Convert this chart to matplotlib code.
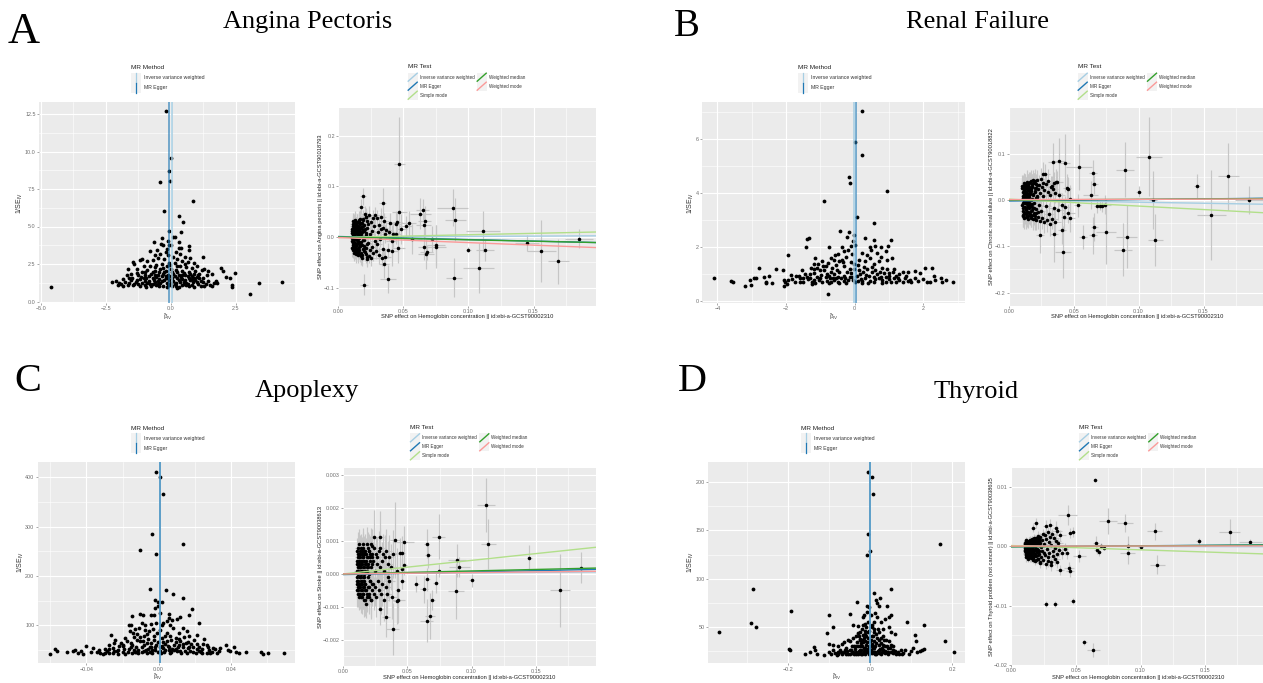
"""Four MR panels: a funnel plot and a scatter plot for each outcome."""
import numpy as np
import matplotlib
matplotlib.use('Agg')
import matplotlib.pyplot as plt
from matplotlib.patches import Rectangle

W, H = 1263, 683
PANEL_BG = '#EBEBEB'
KEY_BG = '#F2F2F2'
TICK_TXT = '#6E6E6E'
BAR_GREY = '#C6C6C6'
C_IVW = '#A6CEE3'
C_EGGER = '#1F78B4'
C_SIMPLE = '#B2DF8A'
C_MEDIAN = '#33A02C'
C_MODE = '#FB9A99'

plt.rcParams.update({
    'font.family': 'Liberation Sans',
    'mathtext.fontset': 'custom',
    'mathtext.rm': 'Liberation Sans',
    'mathtext.it': 'Liberation Sans',
    'mathtext.default': 'regular',
})

# ---- funnel plots: (beta_iv, 1/se_iv)
funnel_a = [
    (-4.63, .97), (4.3, 1.27), (3.4, 1.25), (3.05, .5), (2.46, 1.87), (2.35, 1.1), (2.38, 1.0), (2.3, 1.55),
    (2.12, 1.65), (1.95, 2.25), (2.0, 2.05), (-.2, 12.7), (0, 9.55), (-.07, 8.7), (-.03, 8.05), (-.4, 7.97),
    (.85, 6.7), (-.27, 6.03), (.33, 5.68), (.48, 5.3), (.38, 4.65), (-.07, 4.7), (.1, 4.27), (.18, 4.27),
    (-.35, 4.25), (-.63, 4.0), (-.1, 4.05), (.33, 3.97), (-.38, 3.85), (-.3, 3.75), (-.08, 3.8), (.02, 3.8),
    (.7, 3.7), (.72, 3.45), (-.53, 3.45), (-.8, 3.4), (.3, 3.55), (.4, 3.55), (-.15, 3.5), (-.2, 3.3),
    (1.25, 2.95), (.2, 3.3), (.35, 3.2), (-.4, 3.15), (-.6, 3.1), (-.1, 3.1), (.1, 3.0), (.55, 2.95),
    (.75, 2.9), (-1.1, 2.85), (-1.2, 2.75), (-1.45, 2.65), (-1.4, 2.5), (-.9, 2.7), (-.7, 2.75), (-.5, 2.9),
    (-.25, 2.85), (.25, 2.85), (.45, 2.7), (.65, 2.65), (.9, 2.55), (1.0, 2.4), (-.05, 2.6), (.15, 2.55),
    (-.35, 2.5), (-.55, 2.45), (-.8, 2.4), (-1.05, 2.35), (-1.65, 2.15), (-1.3, 2.2), (-.15, 2.35), (.35, 2.4),
    (.6, 2.3), (.8, 2.25), (1.3, 2.2), (1.45, 2.05), (1.2, 2.1), (-1.55, 1.85), (-1.7, 1.75), (-1.1, 2.0),
    (-.9, 2.1), (-.6, 2.05), (-.4, 2.15), (-.2, 2.05), (0, 2.2), (.2, 2.1), (.45, 2.05), (.7, 2.0),
    (.95, 2.05), (1.1, 1.85), (1.6, 1.85), (1.4, 1.75), (-1.25, 1.75), (-1.0, 1.8), (-.75, 1.85), (-.5, 1.75),
    (-.3, 1.85), (-.1, 1.75), (.1, 1.85), (.3, 1.8), (.55, 1.75), (.8, 1.7), (1.0, 1.65), (1.25, 1.6),
    (-1.85, 1.5), (-1.5, 1.55), (-1.2, 1.5), (-.95, 1.55), (-.7, 1.6), (-.45, 1.5), (-.2, 1.55), (.05, 1.6),
    (.25, 1.55), (.45, 1.5), (.7, 1.55), (.95, 1.45), (1.15, 1.4), (1.45, 1.35), (1.75, 1.35), (-2.25, 1.27),
    (-2.1, 1.37), (-2.0, 1.25), (-1.75, 1.3), (-1.6, 1.22), (-1.35, 1.3), (-1.1, 1.25), (-.85, 1.35), (-.6, 1.3),
    (-.35, 1.35), (-.15, 1.25), (.1, 1.35), (.35, 1.3), (.6, 1.25), (.85, 1.3), (1.05, 1.2), (1.35, 1.2),
    (1.65, 1.25), (1.8, 1.22), (-2.05, 1.1), (-1.85, 1.02), (-1.65, 1.13), (-1.45, 1.08), (-1.2, 1.02), (-1.0, 1.12),
    (-.75, 1.02), (-.55, 1.1), (-.3, 1.02), (-.05, 1.12), (.2, 1.05), (.45, 1.1), (.7, 1.02), (.9, .95),
    (1.15, 1.05), (1.6, 1.02), (.25, .9), (-.95, 1.0), (.55, 1.45), (-.05, 1.42), (-.65, 1.45), (-1.3, 1.42),
    (-1.9, 1.18), (-1.4, 1.2), (-1.0, 1.4), (-.8, 1.2), (-.5, 1.2), (-.25, 1.45), (0, 1.25), (.15, 1.15),
    (.3, 1.42), (.5, 1.2), (.75, 1.42), (1.0, 1.32), (1.25, 1.3), (1.5, 1.12), (-1.55, 1.42), (-1.15, 1.65),
    (-.85, 1.68), (-.55, 1.62), (-.35, 1.68), (-.1, 1.55), (.15, 1.68), (.4, 1.65), (.65, 1.68), (.9, 1.58),
    (1.1, 1.55), (-1.3, 1.9), (-1.0, 1.95), (-.7, 1.95), (-.45, 1.95), (-.25, 1.95), (.05, 1.95), (.25, 1.95),
    (.5, 1.9), (.75, 1.85), (.9, 1.85), (-.6, 2.3), (-.3, 2.25), (-.02, 2.45), (.25, 2.35), (.55, 2.5),
    (-.45, 1.02), (-.15, 1.0), (.05, 1.05), (.33, 1.0), (.6, 1.1), (.8, 1.12), (1.3, 1.05), (-.7, 1.15),
    (-.4, 1.25), (.22, 1.25), (.5, 1.32), (-1.05, 1.6), (-.62, 1.75), (.45, 1.8), (.02, 1.72), (-.18, 1.68),
    (-.48, 1.4), (-.9, 1.25), (.8, 1.5), (1.05, 1.75), (-.12, 1.15), (.68, 1.15), (-1.25, 1.15), (-1.6, 1.6),
]
funnel_b = [
    (-4.1, .87), (-3.6, .77), (-3.55, .73), (-3.2, .57), (-3.05, .78), (-3.03, .62), (-2.95, .87), (-2.88, .85),
    (-2.8, 1.23), (-2.65, .9), (-2.6, .72), (-2.58, .67), (-2.5, .93), (-2.4, .68), (-2.3, 1.2), (-2.1, 1.18),
    (-2.07, .58), (-2.05, .8), (-2.03, .7), (-1.95, .8), (-1.95, 1.7), (-1.85, .97), (-1.7, .95), (-1.6, .85),
    (-1.55, 1.15), (-1.5, .7), (-1.45, 1.0), (-1.42, 2.0), (-1.4, 2.32), (-1.33, 2.34), (-1.3, .85), (-1.25, .65),
    (-1.2, 1.05), (-1.15, 1.6), (-1.2, 1.4), (-1.1, 1.25), (-1.05, .8), (-1.0, 1.15), (-.95, 1.5), (-.9, 3.7),
    (-.85, 1.3), (-.8, 1.0), (-.78, .27), (-.75, 2.03), (-.7, .7), (-.65, 1.25), (-.6, 1.55), (-.55, .85),
    (-.5, 1.75), (-.45, 1.1), (-.42, 2.6), (-.38, 2.03), (-.35, 1.45), (-.3, .75), (-.25, 1.65), (-.22, 2.4),
    (-.18, 2.55), (-.2, 1.9), (-.17, 4.6), (-.15, 4.4), (-.15, 1.2), (-.1, 2.05), (-.07, 1.75), (-.05, 2.22),
    (-.03, 2.47), (0, 5.9), (0, 2.1), (.05, 3.12), (.2, 7.03), (.22, 5.42), (.55, 2.9), (.95, 4.08),
    (.3, 2.35), (.55, 2.28), (.45, 2.03), (.6, 2.05), (.48, 1.9), (.75, 2.03), (1.05, 2.28), (.98, 2.05),
    (.9, 1.85), (.2, 1.8), (.45, 1.6), (.65, 1.8), (1.07, 1.62), (.75, 1.65), (.95, 1.55), (.3, 1.5),
    (.55, 1.4), (.8, 1.25), (1.15, 1.2), (.1, 1.35), (.35, 1.2), (.6, 1.15), (1.0, 1.05), (1.4, 1.1),
    (1.55, 1.1), (1.75, 1.12), (1.9, 1.05), (2.05, 1.22), (2.25, 1.23), (2.3, .95), (2.5, .85), (2.55, .7),
    (2.65, .78), (2.85, .73), (2.1, .7), (2.35, .78), (1.85, .75), (1.6, .8), (1.4, .72), (1.15, .85),
    (.9, .7), (.7, .85), (.45, .75), (.2, .68), (-.05, .8), (-.25, .68), (-.5, .72), (-.72, .85),
    (-.95, .72), (-1.15, .68), (-1.35, .82), (-1.75, .72), (-1.98, .65), (.15, 1.0), (-.1, 1.05), (-.32, .95),
    (-.6, 1.02), (-.85, .9), (-1.1, .92), (-1.3, 1.0), (.4, .95), (.65, 1.0), (.9, .9), (1.2, .95),
    (1.5, .95), (1.75, .88), (2.0, .82), (2.2, .72), (.1, .75), (.3, .85), (.55, .7), (.8, .78),
    (1.05, .72), (1.3, .8), (-.4, .85), (-.15, .9), (-.75, .68), (-1.5, .85), (-.9, 1.15), (-.55, 1.35),
    (.05, .95), (.25, 1.1), (-.3, 1.3), (-.12, 1.45), (-.7, 1.6), (.85, 1.05), (1.65, .7), (-1.25, .72),
    (-1.6, .72), (-1.4, .9), (-1.2, .78), (-1.0, .85), (-.8, .75), (-.62, .88), (-.45, .68), (-.2, .78),
    (0, .7), (.18, .82), (.38, .68), (.6, .82), (.78, .68), (1.0, .82), (1.2, .7), (1.45, .88),
    (-1.08, 1.4), (-.78, 1.42), (-.52, 1.15), (-.38, 1.55), (-.22, 1.08), (-.02, 1.2), (.12, 1.15), (.28, 1.28),
    (.5, 1.1), (.72, 1.1), (.95, 1.2), (1.1, 1.08), (1.3, 1.0), (-.68, 1.08), (-.92, 1.32), (-1.18, 1.2),
    (-.32, 1.85), (-.45, 1.5), (-.58, 1.7), (.35, 1.72), (.5, 1.28), (.7, 1.5), (.12, 1.55), (-.03, 1.38),
    (-1.28, 1.25), (-.98, .98), (-.75, .95), (-.48, .92), (-.28, .88), (-.08, .92), (.32, .98), (.55, .9),
    (.75, .92), (1.0, .95), (1.25, .85), (1.55, .75), (-1.62, .95), (-1.82, .82), (.22, .75), (-.6, .78),
]
funnel_c = [
    (-.0603, 42), (-.0575, 52), (-.0565, 47), (-.051, 46), (-.0475, 48), (-.0465, 50), (-.0445, 44), (-.043, 47),
    (-.042, 42), (-.0405, 58), (-.0375, 46), (-.0365, 54), (-.034, 45), (-.033, 49), (-.031, 42), (-.0295, 51),
    (-.0285, 47), (-.0275, 44), (-.0265, 80), (-.0255, 53), (-.0245, 65), (-.024, 71), (-.023, 47), (-.022, 58),
    (-.021, 64), (-.02, 45), (-.019, 52), (-.0175, 68), (-.0165, 100), (-.016, 88), (-.0155, 101), (-.0145, 119),
    (-.0145, 60), (-.014, 85), (-.0135, 76), (-.013, 46), (-.0125, 56), (-.012, 82), (-.011, 95), (-.0105, 123),
    (-.0085, 121), (-.008, 78), (-.0075, 100), (-.007, 50), (-.0065, 64), (-.006, 73), (-.0055, 88), (-.005, 45),
    (-.004, 121), (-.0045, 103), (-.004, 57), (-.003, 92), (-.0025, 70), (-.002, 49), (-.0015, 105), (-.001, 84),
    (-.0105, 252), (-.005, 173), (-.0035, 284), (-.0015, 244), (-.002, 152), (-.0025, 120), (-.002, 135), (-.0005, 139),
    (-.0015, 410), (.0005, 400), (.0025, 366), (.0135, 265), (.004, 172), (.008, 164), (.0135, 155), (.0185, 132),
    (.017, 120), (.0225, 105), (.012, 116), (.01, 112), (.0055, 123), (.0055, 115), (.0075, 110), (.002, 147),
    (.0005, 125), (-.0005, 147), (.002, 100), (.0045, 85), (.008, 95), (.0115, 85), (.0135, 95), (.0155, 88),
    (.017, 78), (.0195, 70), (.0215, 80), (.025, 72), (.0265, 60), (.028, 50), (.024, 52), (.0215, 63),
    (.019, 55), (.0175, 47), (.015, 64), (.0135, 55), (.0115, 72), (.01, 47), (.0085, 60), (.007, 70),
    (.0055, 50), (.0035, 63), (.002, 75), (.0005, 55), (-.0005, 45), (.003, 46), (.0065, 44), (.0095, 52),
    (.0125, 44), (.016, 54), (.0205, 44), (.0235, 46), (.0265, 44), (.0295, 46), (.031, 52), (.0325, 44),
    (.034, 54), (.0375, 60), (.0385, 50), (.0395, 47), (.0415, 55), (.043, 46), (.0445, 43), (.0485, 45),
    (.0565, 46), (.058, 42), (.0605, 44), (.0695, 44), (-.0095, 45), (-.0115, 50), (-.0145, 44), (-.0165, 52),
    (-.0185, 42), (-.0225, 42), (-.0255, 44), (-.008, 60), (-.006, 52), (-.0035, 44), (-.0015, 60), (-.0105, 68),
    (-.0125, 46), (.0025, 54), (.005, 58), (.0075, 52), (.011, 60), (.0145, 48), (.018, 62), (.0225, 56),
    (.0275, 55), (.0335, 48), (-.0275, 52), (-.0325, 44), (-.0195, 58), (.0015, 44), (.0045, 68), (.0095, 66),
    (-.017, 46), (-.0155, 56), (-.0135, 50), (-.0115, 43), (-.0095, 56), (-.008, 48), (-.0065, 44), (-.005, 55),
    (-.0035, 50), (-.002, 56), (-.0005, 66), (.0005, 48), (.002, 58), (.0035, 50), (.0055, 56), (.007, 46),
    (.0085, 50), (.0105, 56), (.012, 48), (.0135, 62), (.0155, 44), (.017, 56), (.019, 46), (.021, 52),
    (.0225, 48), (.024, 44), (-.0105, 76), (-.0085, 68), (-.0065, 82), (-.0045, 65), (-.0025, 78), (.001, 90),
    (.0025, 66), (.0035, 78), (.0065, 78), (.0095, 75), (.012, 68), (.014, 76), (.0165, 66), (.0025, 105),
    (.0045, 108), (.006, 100), (-.0075, 90), (-.009, 104), (-.013, 92), (-.0185, 74), (-.02, 60), (-.0225, 50),
    (-.025, 47), (-.0275, 60), (-.0295, 44), (.0245, 62), (.0285, 44), (.03, 54), (-.0155, 64), (-.012, 70),
]
funnel_d = [
    (-.368, 44), (-.285, 89), (-.29, 54), (-.28, 50), (-.198, 27), (-.195, 26), (-.194, 66), (-.16, 22),
    (-.148, 24), (-.137, 29), (-.135, 26), (-.13, 22), (-.112, 21), (-.105, 43), (-.102, 32), (-.1, 24),
    (-.1, 62), (-.09, 31), (-.09, 26), (-.09, 50), (-.082, 21), (-.08, 24), (-.079, 30), (-.07, 32),
    (-.065, 24), (-.06, 28), (-.055, 22), (-.05, 35), (-.05, 63), (-.048, 26), (-.043, 38), (-.042, 52),
    (-.04, 22), (-.035, 30), (-.033, 76), (-.03, 51), (-.03, 43), (-.028, 25), (-.025, 37), (-.023, 33),
    (-.02, 48), (-.02, 22), (-.018, 41), (-.017, 60), (-.015, 28), (-.013, 35), (-.012, 53), (-.01, 24),
    (-.008, 125), (-.008, 72), (-.007, 65), (-.006, 45), (-.005, 146), (-.005, 211), (-.004, 30), (-.003, 70),
    (0, 129), (.002, 62), (.005, 206), (.006, 188), (.003, 40), (.005, 52), (.007, 28), (.01, 35),
    (.009, 85), (.014, 78), (.017, 75), (.024, 80), (.02, 72), (.012, 64), (.016, 60), (.02, 45),
    (.025, 55), (.03, 48), (.035, 58), (.04, 72), (.05, 89), (.05, 62), (.045, 60), (.045, 50),
    (.05, 44), (.03, 40), (.025, 33), (.02, 26), (.015, 22), (.035, 30), (.04, 24), (.045, 35),
    (.055, 30), (.06, 42), (.05, 24), (.06, 25), (.07, 22), (.075, 26), (.08, 23), (.085, 26),
    (.09, 55), (.095, 22), (.1, 25), (.105, 28), (.11, 41), (.112, 35), (.115, 24), (.12, 25),
    (.125, 26), (.13, 52), (.13, 27), (.171, 136), (.182, 35), (.203, 24), (.01, 24), (.025, 22),
    (.03, 26), (.005, 30), (-.015, 38), (-.025, 44), (-.035, 40), (-.045, 30), (-.055, 36), (-.065, 34),
    (-.075, 26), (-.085, 23), (-.095, 22), (-.06, 22), (-.04, 30), (-.03, 22), (-.02, 30), (-.01, 40),
    (-.005, 24), (.0, 24), (.004, 23), (.008, 44), (.012, 30), (.016, 38), (.022, 36), (.028, 28),
    (.033, 24), (.038, 36), (.042, 28), (.048, 28), (.055, 23), (-.012, 22), (-.022, 26), (-.032, 34),
    (-.042, 24), (-.05, 22), (-.07, 22), (-.01, 31), (-.014, 46), (-.018, 52), (.0, 35), (.008, 55),
    (-.05, 26), (-.045, 23), (-.038, 27), (-.034, 24), (-.03, 30), (-.026, 26), (-.024, 23), (-.02, 36),
    (-.016, 25), (-.013, 28), (-.01, 26), (-.007, 34), (-.004, 22), (-.002, 28), (.002, 26), (.004, 32),
    (.006, 24), (.009, 28), (.012, 24), (.014, 33), (.018, 25), (.02, 31), (.023, 27), (.026, 38),
    (.03, 31), (.033, 36), (.036, 25), (.04, 30), (.043, 24), (.05, 31), (-.028, 40), (-.024, 30),
    (-.018, 34), (-.012, 42), (-.006, 38), (-.002, 46), (.002, 36), (.006, 40), (.01, 48), (.014, 42),
    (.018, 48), (-.022, 22), (-.034, 22), (-.026, 36), (-.01, 50), (-.006, 55), (-.015, 62), (.003, 50),
    (-.002, 24), (.012, 22), (.02, 23), (.028, 24), (.035, 23), (.042, 22), (-.008, 27), (-.018, 23),
    (.068, 24), (.055, 26), (.063, 22), (.078, 22), (-.056, 25), (-.062, 26), (-.078, 22), (-.072, 24),
]
# lines drawn on the funnel: beta_iv of IVW and MR Egger
funnel_ivw = [.04, -.03, .0006, .0]
funnel_egger = [-.05, .04, .0005, .0]

# ---- scatter plots: SNPs in the dense part share the exposure effects
cloud_x = [
    .0105, .0108, .011, .011, .0112, .0113, .0115, .0115, .0118, .012,
    .012, .0122, .0123, .0125, .0125, .0128, .013, .013, .0132, .0135,
    .0135, .0138, .014, .014, .0142, .0145, .0145, .0148, .015, .015,
    .0152, .0155, .0158, .016, .016, .0163, .0165, .0168, .017, .0172,
    .0175, .0178, .018, .0182, .0185, .0188, .019, .0192, .0195, .02,
    .0203, .0206, .021, .0213, .0216, .022, .0223, .0226, .023, .0234,
    .0238, .0242, .0246, .025, .0254, .0258, .0262, .0266, .027, .0275,
    .028, .0285, .029, .0295, .03, .0305, .031, .0315, .032, .0325,
    .033, .0335, .034, .0345, .035, .0355, .036, .037, .038, .039,
    .0103, .0106, .0107, .0109, .0111, .0112, .0114, .0116, .0117, .0119,
    .0121, .0124, .0126, .0127, .0129, .0131, .0133, .0134, .0136, .0137,
    .0139, .0141, .0143, .0144, .0146, .0147, .0149, .0151, .0153, .0154,
    .0156, .0157, .0159, .0161, .0162, .0164, .0166, .0167, .0169, .0171,
    .0173, .0176, .0179, .0181, .0183, .0186, .0189, .0191, .0194, .0197,
    .0199, .0201, .0204, .0207, .0209, .0211, .0214, .0217, .022, .0224,
]
cloud_xse = [
    .0016, .0017, .0017, .0018, .0016, .0018, .0017, .0019, .0018, .0017,
    .0018, .0019, .0018, .0017, .002, .0019, .0018, .002, .0019, .002,
    .0021, .002, .0019, .0022, .0021, .002, .0023, .0021, .0022, .002,
    .0023, .0022, .0024, .0021, .0025, .0023, .0024, .0022, .0026, .0024,
    .0025, .0027, .0024, .0026, .0028, .0025, .0027, .0029, .0026, .0028,
    .0027, .003, .0028, .0029, .0031, .0028, .003, .0032, .0029, .0031,
    .0032, .003, .0033, .0031, .0034, .0032, .0035, .0033, .0036, .0034,
    .0035, .0037, .0034, .0038, .0036, .0039, .0037, .004, .0038, .0041,
    .004, .0042, .0039, .0043, .0041, .0044, .0042, .0045, .0043, .0046,
    .0016, .0017, .0018, .0016, .0017, .0019, .0018, .0017, .0019, .0018,
    .0019, .0018, .002, .0019, .0018, .002, .0021, .0019, .002, .0022,
    .002, .0022, .0021, .0023, .0021, .0022, .0024, .0022, .0023, .0025,
    .0023, .0024, .0026, .0024, .0025, .0027, .0025, .0026, .0028, .0026,
    .0027, .0026, .0028, .0027, .0029, .0027, .003, .0028, .0029, .003,
    .0028, .003, .0029, .0031, .0029, .0031, .003, .0032, .003, .0032,
]
cloud_a_y = [
    .012, -.008, .022, -.019, .004, .031, -.026, .015, -.003, .009,
    -.014, .027, -.031, .018, .002, -.022, .034, -.011, .007, -.017,
    .024, -.029, .011, -.005, .029, -.024, .016, -.035, .006, -.012,
    .021, -.027, .033, -.009, .013, -.033, .025, -.018, .003, .019,
    -.038, .028, -.015, .010, -.042, .035, -.006, .022, -.028, .014,
    -.021, .045, -.034, .008, .040, -.043, .017, -.012, .026, -.037,
    .044, -.025, .005, .029, -.041, .012, -.019, .037, -.031, .021,
    -.008, .043, -.027, .038, -.014, .010, -.036, .024, -.004, .040,
    .015, -.042, .018, -.023, .032, .006, -.039, .013, -.026, .009,
    -.002, .016, -.021, .007, -.011, .026, .001, -.016, .019, -.025,
    .005, -.009, .032, -.019, .013, -.028, .008, .023, -.004, -.033,
    .017, .000, -.013, .028, -.023, .010, .003, -.030, .020, -.007,
    .014, -.020, .030, -.001, -.026, .009, .036, -.015, .018, -.032,
    .006, -.010, .027, -.036, .015, .001, -.024, .033, -.017, .011,
    .024, -.005, -.030, .016, .039, -.022, .004, -.040, .031, -.013,
]
cloud_a_se = [
    .016, .017, .015, .018, .016, .017, .016, .018, .015, .017,
    .016, .018, .017, .016, .018, .015, .017, .016, .018, .017,
    .016, .018, .017, .015, .017, .016, .018, .016, .017, .015,
    .016, .017, .018, .015, .017, .016, .018, .015, .016, .017,
    .018, .016, .015, .017, .016, .018, .015, .017, .016, .015,
    .017, .016, .018, .015, .016, .017, .015, .018, .016, .015,
    .017, .016, .018, .015, .017, .016, .015, .017, .016, .018,
    .015, .017, .016, .015, .018, .016, .017, .015, .016, .017,
    .018, .015, .016, .017, .015, .018, .016, .017, .015, .016,
    .017, .016, .018, .015, .017, .016, .018, .017, .015, .016,
    .018, .016, .015, .017, .018, .016, .015, .017, .016, .018,
    .015, .017, .016, .018, .015, .016, .017, .018, .016, .015,
    .017, .016, .015, .018, .017, .016, .018, .015, .017, .016,
    .015, .018, .016, .017, .015, .016, .018, .017, .015, .016,
    .018, .015, .017, .016, .018, .015, .017, .016, .018, .015,
]
cloud_b_y = [
    .025, -.018, .008, -.034, .031, -.006, .015, -.027, .002, .021,
    -.038, .012, .029, -.014, -.003, .034, -.022, .006, -.031, .018,
    .027, -.009, -.036, .013, .004, -.025, .033, -.016, .022, -.005,
    -.040, .028, .010, -.029, .036, -.012, .017, -.035, .024, .001,
    .041, -.021, .030, -.008, .044, -.033, .014, .038, -.018, .026,
    -.042, .019, .035, -.027, .007, .043, -.037, .023, -.011, .032,
    -.045, .016, .046, -.024, .029, -.039, .009, .037, -.048, .021,
    .056, -.013, .034, -.044, .018, .042, -.030, .010, -.052, .028,
    .031, -.040, .024, -.017, .036, -.047, .015, .039, -.022, .012,
    -.011, .030, -.024, .017, .005, -.033, .023, -.002, .037, -.015,
    .010, -.028, .019, .035, -.007, -.020, .028, .003, -.037, .014,
    -.004, .025, .039, -.026, .009, -.013, .032, -.034, .016, -.001,
    .022, -.017, .006, .040, -.031, .013, -.008, .027, -.038, .020,
    -.023, .034, .002, -.014, .029, -.041, .011, .036, -.006, -.029,
    .018, -.035, .042, .005, -.019, .026, -.044, .033, .008, -.025,
]
cloud_b_se = [
    .022, .024, .021, .025, .023, .022, .024, .026, .021, .023,
    .025, .022, .024, .021, .026, .023, .022, .025, .024, .021,
    .023, .026, .022, .024, .021, .025, .023, .022, .026, .024,
    .021, .023, .025, .022, .024, .026, .021, .023, .022, .025,
    .024, .021, .026, .023, .022, .025, .024, .021, .023, .026,
    .022, .024, .021, .025, .023, .022, .026, .024, .021, .023,
    .025, .022, .024, .021, .026, .023, .022, .025, .024, .021,
    .023, .026, .022, .024, .021, .025, .023, .022, .026, .024,
    .021, .023, .025, .022, .024, .026, .021, .023, .022, .025,
    .023, .025, .022, .024, .021, .026, .023, .024, .022, .025,
    .021, .023, .026, .022, .024, .025, .021, .023, .026, .022,
    .024, .021, .025, .023, .022, .026, .024, .021, .023, .025,
    .022, .024, .026, .021, .023, .025, .022, .024, .021, .026,
    .023, .022, .025, .024, .021, .023, .026, .022, .024, .025,
    .021, .023, .025, .022, .026, .024, .021, .023, .025, .022,
]
cloud_c_y = [
    .0004, -.0003, .0007, -.0005, .0002, .0008, -.0006, .0001, -.0002, .0006,
    -.0004, .0003, .0009, -.0007, .0005, -.0001, -.0006, .0002, .0006, -.0003,
    .0008, -.0005, .0001, .0004, -.0007, .0007, -.0002, .0003, -.0006, .0005,
    -.0004, .0009, .0002, -.0008, .0006, -.0001, .0004, -.0005, .0007, -.0003,
    .0006, -.0009, .0003, .0005, -.0006, .0001, .0008, -.0004, .0002, -.0007,
    .0007, -.0002, .0005, -.0008, .0009, .0003, -.0005, .0006, -.0003, .0004,
    -.0006, .0008, .0001, -.0004, .0006, -.0007, .0003, .0005, -.0002, .0007,
    -.0005, .0002, .0008, -.0006, .0004, -.0003, .0006, -.0008, .0001, .0005,
    -.0004, .0007, -.0006, .0003, -.0001, .0005, -.0002, .0002, -.0007, .0006,
    .0001, -.0001, .0003, -.0002, .0005, -.0004, .0006, .0000, -.0005, .0002,
    -.0003, .0004, -.0006, .0007, -.0001, .0002, -.0004, .0005, .0000, -.0007,
    .0003, -.0002, .0006, .0001, -.0005, .0004, -.0003, .0008, -.0001, .0002,
    -.0006, .0005, .0000, -.0004, .0007, -.0002, .0003, -.0008, .0006, .0001,
    -.0003, .0004, -.0005, .0009, .0002, -.0007, .0005, -.0001, .0003, -.0004,
    .0007, -.0006, .0000, .0004, -.0002, .0006, -.0008, .0002, .0005, -.0003,
]
cloud_c_se = [
    .0004, .00045, .0004, .0005, .00042, .00048, .0004, .00045, .0005, .0004,
    .00042, .00048, .00045, .0004, .0005, .00043, .00047, .0004, .00045, .0005,
    .00042, .00048, .0004, .00045, .0005, .00043, .00047, .0004, .00046, .0005,
    .00042, .00048, .00044, .0005, .00043, .00047, .00052, .00045, .0005, .00042,
    .00048, .00044, .00052, .00046, .0005, .00043, .00047, .00054, .00045, .0005,
    .00048, .00052, .00046, .00056, .0005, .00054, .00048, .00058, .00052, .00056,
    .0005, .0006, .00054, .00058, .00052, .0006, .00056, .00062, .00054, .0006,
    .00056, .00064, .00058, .00062, .00056, .00066, .0006, .00064, .00058, .00068,
    .00062, .00066, .0006, .0007, .00064, .00068, .00062, .0007, .00066, .00072,
    .0004, .00044, .00042, .00046, .0004, .00048, .00043, .00045, .0004, .00047,
    .00042, .00046, .00044, .00048, .00041, .00045, .00043, .00047, .00042, .00049,
    .00044, .00046, .00043, .00048, .00045, .00042, .00049, .00046, .00044, .00047,
    .00045, .00048, .00043, .0005, .00046, .00044, .00049, .00047, .00045, .0005,
    .00046, .00049, .00047, .00052, .00048, .00045, .00051, .00049, .00047, .00053,
    .0005, .00048, .00054, .00051, .00049, .00055, .00052, .0005, .00056, .00053,
]
cloud_d_y = [
    -.0006, .0004, -.0014, .0007, -.0002, -.0019, .0010, -.0009, .0002, -.0012,
    .0006, -.0004, -.0016, .0009, -.0007, .0001, -.0021, .0005, -.0011, .0003,
    -.0015, .0008, -.0003, -.0018, .0011, -.0008, .0004, -.0013, -.0001, .0007,
    -.0020, .0002, -.0010, .0012, -.0005, -.0017, .0006, -.0023, .0009, -.0007,
    .0014, -.0012, .0003, -.0025, .0010, -.0004, -.0016, .0013, -.0009, .0005,
    -.0022, .0017, -.0006, -.0013, .0008, -.0028, .0015, -.0002, -.0018, .0011,
    -.0008, .0021, -.0024, .0004, -.0011, .0018, -.0015, -.0030, .0012, -.0005,
    .0024, -.0019, .0007, -.0012, .0016, -.0027, .0002, .0020, -.0009, -.0017,
    .0013, -.0003, -.0022, .0009, .0026, -.0014, .0005, -.0007, .0018, -.0011,
    -.0003, .0001, -.0009, .0005, -.0012, .0003, -.0006, .0008, -.0015, -.0001,
    .0006, -.0010, .0002, -.0018, .0004, -.0005, -.0013, .0007, -.0002, -.0008,
    .0009, -.0014, .0000, -.0004, .0005, -.0019, .0003, -.0011, .0008, -.0006,
    -.0016, .0001, .0010, -.0009, -.0003, .0006, -.0020, .0004, -.0012, .0002,
    .0011, -.0007, -.0017, .0005, -.0001, -.0013, .0009, -.0024, .0003, -.0010,
    .0014, -.0005, -.0021, .0008, -.0015, .0002, .0012, -.0008, -.0026, .0006,
]
cloud_d_se = [
    .0005, .0006, .0005, .0006, .0005, .0007, .0005, .0006, .0005, .0006,
    .0006, .0005, .0007, .0005, .0006, .0005, .0006, .0007, .0005, .0006,
    .0005, .0007, .0006, .0005, .0006, .0005, .0007, .0006, .0005, .0006,
    .0007, .0005, .0006, .0005, .0007, .0006, .0005, .0006, .0007, .0005,
    .0006, .0007, .0005, .0006, .0008, .0006, .0007, .0005, .0006, .0007,
    .0006, .0008, .0005, .0007, .0006, .0008, .0007, .0006, .0008, .0007,
    .0006, .0008, .0007, .0009, .0006, .0008, .0007, .0009, .0008, .0007,
    .0009, .0008, .0007, .0009, .0008, .001, .0007, .0009, .0008, .001,
    .0009, .0008, .001, .0009, .0008, .001, .0009, .0011, .0009, .001,
    .0005, .0006, .0005, .0007, .0005, .0006, .0005, .0006, .0007, .0005,
    .0006, .0005, .0007, .0006, .0005, .0006, .0007, .0005, .0006, .0005,
    .0006, .0007, .0005, .0006, .0005, .0007, .0006, .0005, .0006, .0007,
    .0005, .0006, .0007, .0005, .0006, .0007, .0006, .0005, .0007, .0006,
    .0006, .0007, .0005, .0006, .0008, .0006, .0007, .0005, .0008, .0006,
    .0007, .0006, .0008, .0007, .0006, .0008, .0007, .0006, .0008, .0007,
]

# isolated SNPs: (x, y, x_se, y_se)
far_a = [
    (.185, -.003, .011, .019), (.169, -.048, .008, .044), (.156, -.027, .011, .061), (.145, -.012, .009, .016),
    (.113, -.025, .007, .022), (.111, .011, .013, .04), (.108, -.061, .012, .05), (.1, -.025, .002, .005),
    (.09, .034, .008, .042), (.089, -.08, .006, .038), (.088, .058, .012, .036), (.075, -.016, .007, .04),
    (.075, -.019, .008, .042), (.072, -.004, .005, .026), (.068, -.03, .005, .015), (.0665, .031, .005, .03),
    (.0655, .024, .006, .024), (.065, .054, .005, .02), (.0655, -.02, .004, .025), (.0675, -.033, .006, .03),
    (.063, .046, .008, .03), (.057, -.004, .007, .03), (.054, .027, .006, .025), (.052, .021, .005, .02),
    (.047, .143, .004, .093), (.047, .05, .006, .045), (.0485, .016, .004, .03), (.046, -.021, .005, .03),
    (.045, .03, .004, .02), (.044, .026, .004, .025), (.044, .006, .004, .02), (.042, .005, .004, .025),
    (.041, -.007, .004, .03), (.04, .027, .004, .02), (.0415, -.028, .004, .03), (.038, -.083, .006, .028),
    (.035, -.053, .004, .028), (.034, .067, .003, .03), (.02, -.094, .003, .021), (.019, .08, .002, .016),
    (.0175, .06, .002, .015),
]
far_b = [
    (.185, 0, .011, .03), (.169, .051, .008, .072), (.156, -.032, .011, .097), (.145, .03, .002, .026),
    (.113, -.086, .006, .056), (.111, 0, .003, .063), (.108, .094, .01, .085), (.1, .018, .002, .012),
    (.0895, .066, .007, .06), (.091, -.079, .008, .068), (.088, -.107, .007, .058), (.075, -.068, .008, .07),
    (.074, -.01, .005, .02), (.072, -.013, .003, .012), (.07, -.012, .002, .01), (.068, -.012, .002, .015),
    (.066, .034, .003, .02), (.065, .059, .003, .028), (.066, -.058, .003, .03), (.065, -.076, .003, .04),
    (.063, .011, .006, .03), (.057, -.079, .003, .026), (.054, .071, .01, .05), (.053, -.011, .003, .025),
    (.047, -.038, .004, .03), (.0475, .002, .003, .03), (.046, -.029, .005, .02), (.045, .027, .003, .03),
    (.0455, .024, .002, .025), (.0435, -.016, .003, .025), (.043, .08, .004, .063), (.042, -.112, .006, .056),
    (.0425, -.036, .002, .03), (.041, -.065, .003, .03), (.041, -.01, .002, .025), (.0385, .085, .005, .05),
    (.034, .083, .004, .04), (.035, -.073, .003, .06), (.0365, .038, .002, .03), (.024, -.075, .003, .04),
    (.0265, .057, .002, .025),
]
far_c = [
    (.185, .00019, .011, .00047), (.169, -.0005, .008, .0011), (.145, .00048, .002, .0004), (.113, .0009, .006, .00075),
    (.111, .0021, .007, .00082), (.1, -.00019, .002, .0002), (.0905, .0002, .008, .0003), (.089, .00042, .007, .0005),
    (.088, -.00052, .006, .00085), (.0745, .00113, .005, .00068), (.0745, .0001, .002, .0002), (.072, -.00027, .002, .00032),
    (.0695, -.00078, .002, .0003), (.0675, -.00127, .004, .0007), (.065, -.00142, .005, .00065), (.066, .00057, .002, .0004),
    (.065, .00092, .002, .00045), (.0655, -.00016, .002, .00035), (.063, -.00047, .003, .0004), (.057, -.0003, .002, .00025),
    (.047, .00096, .008, .0005), (.0475, .00026, .002, .0003), (.044, .00064, .004, .00045), (.0455, .00064, .002, .0005),
    (.0455, .00016, .002, .0003), (.046, -.0002, .002, .00025), (.0405, .00102, .004, .00115), (.043, -.0008, .005, .0007),
    (.0415, -.00081, .003, .0007), (.0425, -.00048, .002, .0006), (.0385, -.00167, .005, .0008), (.0415, .0001, .002, .0007),
    (.0335, -.00132, .003, .0006), (.029, -.00106, .002, .0005), (.029, .00112, .003, .0008), (.024, .00113, .003, .0008),
    (.0225, .00086, .002, .0005),
]
far_d = [
    (.185, .00078, .009, .0004), (.169, .0024, .008, .0022), (.145, .00085, .002, .0006), (.113, -.0031, .006, .0016),
    (.111, .0025, .006, .0014), (.1, -.0002, .002, .0003), (.0905, .0001, .002, .0016), (.09, -.0012, .006, .0018),
    (.088, .0039, .006, .0015), (.0745, .0042, .007, .0022), (.072, -.0003, .002, .0004), (.0695, .0001, .002, .0005),
    (.0675, -.001, .002, .0006), (.066, -.0007, .002, .0006), (.0655, .0005, .002, .0012), (.065, .0111, .001, .0003),
    (.0635, -.0175, .005, .0012), (.0565, -.0162, .002, .0004), (.0525, -.0017, .005, .001), (.0475, -.0093, .002, .0005),
    (.0475, .0024, .002, .0008), (.0455, .0022, .002, .0009), (.0455, -.0042, .003, .001), (.0445, -.0036, .004, .001),
    (.0435, .0052, .007, .0017), (.043, -.0012, .002, .001), (.0415, -.0005, .002, .001), (.0375, -.004, .003, .0008),
    (.0345, .0031, .002, .0012), (.034, -.0098, .002, .0005), (.035, -.0027, .002, .001), (.0265, -.0097, .002, .0005),
    (.0265, .0034, .002, .001), (.03, .0035, .002, .001), (.0305, -.0032, .002, .001), (.0285, -.0025, .002, .001),
    (.019, .0039, .002, .0009), (.017, .003, .002, .0007),
]

# fit lines, order IVW, Egger, Simple mode, Weighted median, Weighted mode
line_colors = [C_IVW, C_EGGER, C_SIMPLE, C_MEDIAN, C_MODE]
fit_a = {'b0': [0, .001, -.001, 0, -.001], 'slope': [.012, -.06, .055, -.055, -.1]}
fit_b = {'b0': [0, -.002, .002, 0, .001], 'slope': [-.046, .03, -.15, .016, .006]}
fit_c = {'b0': [0, -.00002, 0, 0, 0], 'slope': [.0003, .0008, .0041, .0009, .0004]}
fit_d = {'b0': [0, -.0001, .0001, -.0001, 0], 'slope': [-.0005, .0016, -.0072, .0014, .0002]}

method_names = ['Inverse variance weighted', 'MR Egger']
test_names = ['Inverse variance weighted', 'MR Egger', 'Simple mode', 'Weighted median', 'Weighted mode']
exposure = 'SNP effect on Hemoglobin concentration || id:ebi-a-GCST90002310'

fig = plt.figure(figsize=(W / 100, H / 100), dpi=100, facecolor='white')
page = fig.add_axes([0, 0, 1, 1])
page.set_xlim(0, W)
page.set_ylim(H, 0)
page.axis('off')


def px_axes(x0, y0, x1, y1):
    ax = fig.add_axes([x0 / W, 1 - y1 / H, (x1 - x0) / W, (y1 - y0) / H])
    ax.set_facecolor(PANEL_BG)
    for s in ax.spines.values():
        s.set_visible(False)
    ax.set_axisbelow(True)
    return ax


def style_axes(ax, xlim, ylim, xmaj, xmin, ymaj, ymin, xlab, ylab):
    ax.set_xlim(xlim)
    ax.set_ylim(ylim)
    ax.set_xticks(xmaj)
    ax.set_xticklabels(xlab)
    ax.set_yticks(ymaj)
    ax.set_yticklabels(ylab)
    ax.set_xticks(xmin, minor=True)
    ax.set_yticks(ymin, minor=True)
    ax.grid(which='major', color='white', lw=.85)
    ax.grid(which='minor', color='white', lw=.4)
    ax.tick_params(which='minor', length=0)
    ax.tick_params(which='major', length=1.4, width=.4, color='#666666',
                   labelsize=3.9, labelcolor=TICK_TXT, pad=1)


def funnel(box, data, ivw, egger, lims, ticks):
    ax = px_axes(*box)
    pts = np.array(data)
    style_axes(ax, lims[0], lims[1], *ticks)
    ax.scatter(pts[:, 0], pts[:, 1], s=7.5, color='black', linewidths=0, zorder=3)
    ax.axvline(ivw, color=C_IVW, lw=1.1, zorder=4)
    ax.axvline(egger, color=C_EGGER, lw=1.1, alpha=.75, zorder=4)
    return ax


def scatter(box, far, cy, cse, fit, lims, ticks):
    ax = px_axes(*box)
    f = np.array(far)
    x = np.r_[cloud_x, f[:, 0]]
    y = np.r_[cy, f[:, 1]]
    xe = np.r_[cloud_xse, f[:, 2]]
    ye = np.r_[cse, f[:, 3]]
    style_axes(ax, lims[0], lims[1], *ticks)
    ax.errorbar(x, y, xerr=xe, yerr=ye, fmt='none', ecolor=BAR_GREY, elinewidth=.85, capsize=0, zorder=2)
    ax.scatter(x, y, s=6.5, color='black', linewidths=0, zorder=3)
    for b0, m, c in zip(fit['b0'], fit['slope'], line_colors):
        ax.axline((0, b0), slope=m, color=c, lw=1.0, zorder=4)
    return ax


def funnel_legend(x, y):
    page.text(x, y, 'MR Method', fontsize=4.6, color='#222222', va='center')
    for i, (name, c) in enumerate(zip(method_names, [C_IVW, C_EGGER])):
        top = y + 5.3 + i * 10
        page.add_patch(Rectangle((x, top), 10, 10, fc=KEY_BG, ec='none'))
        page.plot([x + 5, x + 5], [top, top + 10], color=c, lw=.9)
        page.text(x + 13, top + 5, name, fontsize=3.7, color='#333333', va='center')


def test_legend(x, y, col2):
    page.text(x, y, 'MR Test', fontsize=4.6, color='#222222', va='center')
    for i, (name, c) in enumerate(zip(test_names, line_colors)):
        kx = x if i < 3 else col2
        top = y + 6 + (i if i < 3 else i - 3) * 9
        page.add_patch(Rectangle((kx, top), 10, 9, fc=KEY_BG, ec='none'))
        page.plot([kx + .5, kx + 9.5], [top + 8.5, top + .5], color=c, lw=1.0)
        page.text(kx + 12, top + 4.5, name, fontsize=3.35, color='#333333', va='center')


def fb_labels(xx, xy, yx, yy):
    page.text(xx, xy, r'$\hat{\beta}_{IV}$', fontsize=4.6, color='#444444', ha='center', va='center')
    page.text(yx, yy, r'$1/SE_{IV}$', fontsize=5, color='#333333', ha='center', va='center', rotation=90)


def sc_labels(xx, xy, yx, yy, outcome):
    page.text(xx, xy, exposure, fontsize=4.15, color='#222222', ha='center', va='center')
    page.text(yx, yy, outcome, fontsize=4.15, color='#222222', ha='center', va='center', rotation=90)


# panel A
funnel((39, 102, 295, 303), funnel_a, funnel_ivw[0], funnel_egger[0], ((-5.08, 4.79), (-.1, 13.3)),
       ([-5, -2.5, 0, 2.5], [-3.75, -1.25, 1.25, 3.75], [0, 2.5, 5, 7.5, 10, 12.5], [1.25, 3.75, 6.25, 8.75, 11.25],
        ['−5.0', '−2.5', '0.0', '2.5'], ['0.0', '2.5', '5.0', '7.5', '10.0', '12.5']))
scatter((338.3, 108, 596, 306), far_a, cloud_a_y, cloud_a_se, fit_a, ((0, .198), (-.136, .2544)),
        ([0, .05, .1, .15], [.025, .075, .125, .175], [-.1, 0, .1, .2], [-.05, .05, .15],
         ['0.00', '0.05', '0.10', '0.15'], ['−0.1', '0.0', '0.1', '0.2']))
# panel B
funnel((702, 102, 965, 303), funnel_b, funnel_ivw[1], funnel_egger[1], ((-4.45, 3.21), (-.06, 7.38)),
       ([-4, -2, 0, 2], [-3, -1, 1, 3], [0, 2, 4, 6], [1, 3, 5, 7],
        ['−4', '−2', '0', '2'], ['0', '2', '4', '6']))
scatter((1008.7, 108, 1263, 306), far_b, cloud_b_y, cloud_b_se, fit_b, ((0, .1958), (-.229, .199)),
        ([0, .05, .1, .15], [.025, .075, .125, .175], [-.2, -.1, 0, .1], [-.15, -.05, .05, .15],
         ['0.00', '0.05', '0.10', '0.15'], ['−0.2', '−0.1', '0.0', '0.1']))
# panel C
funnel((37.7, 462.3, 295, 663.3), funnel_c, funnel_ivw[2], funnel_egger[2], ((-.067, .0755), (23, 430)),
       ([-.04, 0, .04], [-.06, -.02, .02, .06], [100, 200, 300, 400], [50, 150, 250, 350],
        ['−0.04', '0.00', '0.04'], ['100', '200', '300', '400']))
scatter((343.3, 468.3, 596, 666), far_c, cloud_c_y, cloud_c_se, fit_c, ((0, .197), (-.00279, .0032)),
        ([0, .05, .1, .15], [.025, .075, .125, .175], [-.002, -.001, 0, .001, .002, .003],
         [-.0025, -.0015, -.0005, .0005, .0015, .0025],
         ['0.00', '0.05', '0.10', '0.15'], ['−0.002', '−0.001', '0.000', '0.001', '0.002', '0.003']))
# panel D
funnel((708, 462.3, 965, 663.3), funnel_d, funnel_ivw[3], funnel_egger[3], ((-.396, .231), (12, 220.8)),
       ([-.2, 0, .2], [-.3, -.1, .1], [50, 100, 150, 200], [25, 75, 125, 175],
        ['−0.2', '0.0', '0.2'], ['50', '100', '150', '200']))
scatter((1010.7, 468.3, 1263, 665), far_d, cloud_d_y, cloud_d_se, fit_d, ((-.0005, .1948), (-.02, .0131)),
        ([0, .05, .1, .15], [.025, .075, .125, .175], [-.02, -.01, 0, .01], [-.015, -.005, .005],
         ['0.00', '0.05', '0.10', '0.15'], ['−0.02', '−0.01', '0.00', '0.01']))

funnel_legend(131, 67.5)
funnel_legend(798, 67.5)
funnel_legend(130.7, 428)
funnel_legend(801, 428)
test_legend(407.7, 66.7, 476.7)
test_legend(1077.7, 66.7, 1147)
test_legend(410, 427.3, 479.3)
test_legend(1079, 427.3, 1148.3)

fb_labels(168, 317, 20, 202.7)
fb_labels(834, 317, 690.7, 203)
fb_labels(158, 677, 20.7, 562)
fb_labels(836.7, 677, 690.7, 562)
sc_labels(466.7, 316.3, 320.7, 207, 'SNP effect on Angina pectoris || id:ebi-a-GCST90018793')
sc_labels(1137, 316.3, 991, 207, 'SNP effect on Chronic renal failure || id:ebi-a-GCST90018822')
sc_labels(468.8, 677, 320.7, 567, 'SNP effect on Stroke || id:ebi-a-GCST90038613')
sc_labels(1138.3, 677, 991.7, 567, 'SNP effect on Thyroid problem (not cancer) || id:ebi-a-GCST90038635')

for x, y, t in [(308, 28, 'Angina Pectoris'), (978, 28, 'Renal Failure'), (307, 397, 'Apoplexy'), (976, 398, 'Thyroid')]:
    page.text(x, y, t, family='Liberation Serif', fontsize=19, color='black', ha='center', va='baseline')
for x, y, t, fs in [(8, 43, 'A', 32), (674, 36, 'B', 28), (14, 391, 'C', 29), (678, 391, 'D', 29)]:
    page.text(x, y, t, family='Liberation Serif', fontsize=fs, color='black', ha='left', va='baseline')

fig.savefig('out.png', dpi=100, facecolor='white')
